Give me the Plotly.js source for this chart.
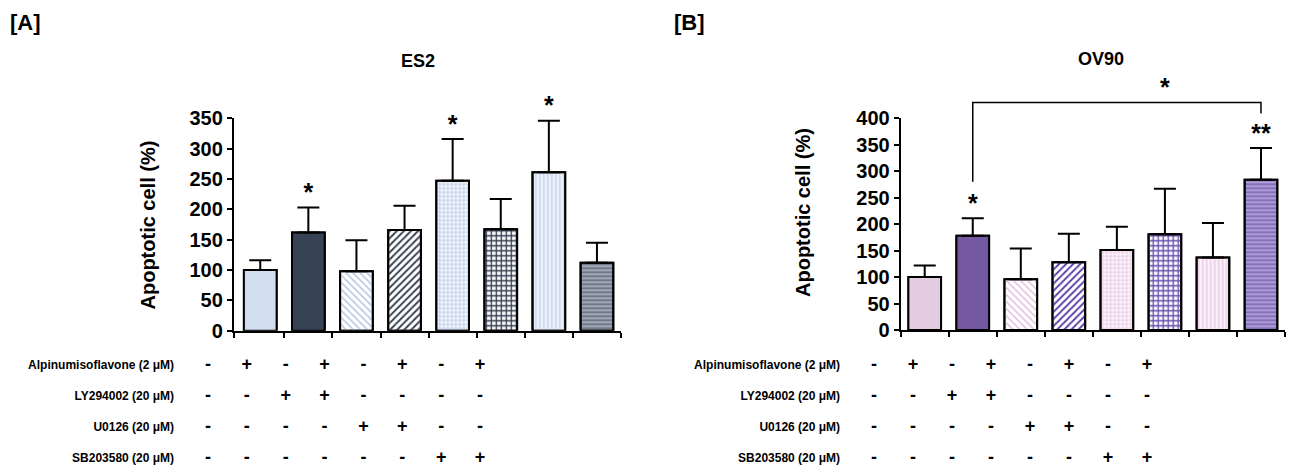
<!DOCTYPE html>
<html><head><meta charset="utf-8">
<script src="https://cdn.plot.ly/plotly-3.0.1.min.js"></script>
<style>html,body{margin:0;padding:0;background:#fff;} #chart{width:1293px;height:467px;}</style>
</head><body><div id="chart"></div>
<script>
// ---- data ----
const categories = ['Control', 'Alp', 'LY', 'Alp+LY', 'U0126', 'Alp+U0126', 'SB', 'Alp+SB'];
const es2Mean = [100, 162, 98, 166, 247, 167, 261, 112];
const es2Err  = [16, 41, 51, 40, 69, 50, 85, 33];
const es2Sig  = ['', '*', '', '', '*', '', '*', ''];
const ov90Mean = [100, 178, 96, 128, 151, 181, 137, 284];
const ov90Err  = [22, 33, 58, 54, 44, 86, 65, 60];
const ov90Sig  = ['', '*', '', '', '', '', '', '**'];
const bracketX = [1, 1, 7, 7];
const bracketY = [280, 430, 430, 409];
const bracketLabelX = [5];
const bracketLabelY = [430];
const bracketLabel = ['*'];
const treatments = ['Alpinumisoflavone (2 μM)', 'LY294002 (20 μM)', 'U0126 (20 μM)', 'SB203580 (20 μM)'];
const alpin = ['-', '+', '-', '+', '-', '+', '-', '+'];
const ly    = ['-', '-', '+', '+', '-', '-', '-', '-'];
const u0126 = ['-', '-', '-', '-', '+', '+', '-', '-'];
const sb    = ['-', '-', '-', '-', '-', '-', '+', '+'];
const tableRows = [alpin, ly, u0126, sb];

// ---- styles ----
const es2Bg    = ['#d3deef', '#374354', '#ffffff', '#ffffff', '#f1f5fb', '#ffffff', '#eef2fa', '#a3aab7'];
const es2Fg    = ['#d3deef', '#374354', '#b3c5e6', '#3a4455', '#c2d1ec', '#2f3a4c', '#c0cfea', '#3e4759'];
const ov90Bg   = ['#e3cbe2', '#7458a2', '#ffffff', '#ffffff', '#fbf3fa', '#ffffff', '#fbf1f9', '#ab9dd3'];
const ov90Fg   = ['#e3cbe2', '#7458a2', '#e4bddf', '#5e44a6', '#eccde8', '#6248aa', '#e8c2e3', '#5f44a6'];
const shapes   = ['', '', '\\', '/', '.', '+', '|', '-'];
const psize    = [8, 8, 5, 5, 4, 5, 4, 4];
const psolid   = [0.3, 0.3, 0.3, 0.4, 0.45, 0.45, 0.3, 0.25];
const FONT = 'Liberation Sans, Arial, sans-serif';

const W = 1293, H = 467;
const fx = p => p / W;
const fy = p => (H - p) / H;
const idx = categories.map((_, i) => i);
const zeros = categories.map(() => 0);
const boundsA = [-0.55].concat(categories.map((_, i) => i + 0.5));
const boundsB = [-0.5].concat(categories.map((_, i) => i + 0.5));

function baseBar(mean, bg, xa, ya) {
  return {
    type: 'bar', x: idx, y: mean, xaxis: xa, yaxis: ya, width: 0.68,
    marker: {color: bg, line: {color: '#000', width: 2}}, hoverinfo: 'none', showlegend: false
  };
}
function patternBar(mean, err, fg, xa, ya) {
  return {
    type: 'bar', x: idx, y: mean, xaxis: xa, yaxis: ya, width: 0.68,
    marker: {
      color: fg, line: {color: '#000', width: 2},
      pattern: {shape: shapes, fgcolor: fg, bgcolor: 'rgba(0,0,0,0)', size: psize, solidity: psolid, fillmode: 'replace'}
    },
    error_y: {type: 'data', symmetric: false, array: err, arrayminus: zeros, color: '#000', thickness: 2, width: 11},
    hoverinfo: 'none', showlegend: false
  };
}
function sigTrace(mean, err, sig, xa, ya) {
  return {
    type: 'scatter', mode: 'text', x: idx, y: mean.map((m, i) => m + err[i]), text: sig,
    textposition: 'top center', cliponaxis: false, xaxis: xa, yaxis: ya,
    textfont: {family: FONT, size: 25, color: '#000', weight: 'bold'}, hoverinfo: 'none', showlegend: false
  };
}
function tableTraces(xa, ya) {
  return tableRows.map((row, r) => ({
    type: 'scatter', mode: 'text', x: idx, y: row.map(() => treatments[r]), text: row,
    textposition: 'middle center', cliponaxis: false, xaxis: xa, yaxis: ya,
    textfont: {family: FONT, size: 18, color: '#000', weight: 'bold'}, hoverinfo: 'none', showlegend: false
  }));
}

const traces = [
  baseBar(es2Mean, es2Bg, 'x', 'y'),
  patternBar(es2Mean, es2Err, es2Fg, 'x', 'y'),
  sigTrace(es2Mean, es2Err, es2Sig, 'x', 'y'),
  baseBar(ov90Mean, ov90Bg, 'x2', 'y2'),
  patternBar(ov90Mean, ov90Err, ov90Fg, 'x2', 'y2'),
  sigTrace(ov90Mean, ov90Err, ov90Sig, 'x2', 'y2'),
  {type: 'scatter', mode: 'lines', x: bracketX, y: bracketY, xaxis: 'x2', yaxis: 'y5',
   line: {color: '#000', width: 1.5}, hoverinfo: 'none', showlegend: false, cliponaxis: false},
  {type: 'scatter', mode: 'text', x: bracketLabelX, y: bracketLabelY, text: bracketLabel, xaxis: 'x2', yaxis: 'y5',
   textposition: 'top center', cliponaxis: false,
   textfont: {family: FONT, size: 25, color: '#000', weight: 'bold'}, hoverinfo: 'none', showlegend: false}
].concat(tableTraces('x3', 'y3'), tableTraces('x4', 'y4'));

// geometry
const aYBot = fy(330.7), aYTop = fy(118.3);
const bYBot = fy(330), bYTop = fy(118.3);
const b5Top = fy(70);
const b5Range = 400 * (b5Top - bYBot) / (bYTop - bYBot);

const yAxisCommon = {
  showline: true, linecolor: '#000', linewidth: 2, ticks: 'outside', ticklen: 5, tickwidth: 2, tickcolor: '#000',
  showgrid: false, zeroline: false, tickfont: {family: FONT, size: 20, color: '#000', weight: 'bold'}, fixedrange: true
};
const xAxisCommon = {
  showline: true, linecolor: '#000', linewidth: 2, ticks: 'outside', ticklen: 5, tickwidth: 2, tickcolor: '#000',
  showgrid: false, zeroline: false, showticklabels: false, tickmode: 'array', fixedrange: true
};
const tableY = {
  type: 'category', categoryarray: treatments, categoryorder: 'array', range: [3.25, -0.25], autorange: false,
  showline: false, showgrid: false, zeroline: false, ticks: 'outside', ticklen: 11, tickcolor: 'rgba(0,0,0,0)',
  tickfont: {family: FONT, size: 12, color: '#000', weight: 'bold'}, fixedrange: true
};
const tableX = {range: [-0.5, 7.5], visible: false, fixedrange: true};

const layout = {
  width: W, height: H, margin: {l: 0, r: 0, t: 0, b: 0},
  paper_bgcolor: '#fff', plot_bgcolor: 'rgba(0,0,0,0)', showlegend: false, barmode: 'overlay',
  xaxis: Object.assign({}, xAxisCommon, {domain: [fx(233.8), fx(621)], range: [-0.55, 7.5], tickvals: boundsA, anchor: 'y'}),
  yaxis: Object.assign({}, yAxisCommon, {domain: [aYBot, aYTop], range: [0, 350], dtick: 50, anchor: 'x'}),
  xaxis2: Object.assign({}, xAxisCommon, {domain: [fx(900.7), fx(1285)], range: [-0.5, 7.5], tickvals: boundsB, anchor: 'y2'}),
  yaxis2: Object.assign({}, yAxisCommon, {domain: [bYBot, bYTop], range: [0, 400], dtick: 50, anchor: 'x2'}),
  yaxis5: {domain: [bYBot, b5Top], range: [0, b5Range], visible: false, anchor: 'x2', fixedrange: true},
  xaxis3: Object.assign({}, tableX, {domain: [fx(188.5), fx(499.5)], anchor: 'y3'}),
  yaxis3: Object.assign({}, tableY, {domain: [fy(465.75), fy(357.25)], anchor: 'x3'}),
  xaxis4: Object.assign({}, tableX, {domain: [fx(854.5), fx(1166.5)], anchor: 'y4'}),
  yaxis4: Object.assign({}, tableY, {domain: [fy(465.75), fy(357.25)], anchor: 'x4'}),
  annotations: [
    {text: '[A]', x: fx(8), y: fy(22), xref: 'paper', yref: 'paper', xanchor: 'left', yanchor: 'middle', showarrow: false,
     font: {family: FONT, size: 22, color: '#000', weight: 'bold'}},
    {text: '[B]', x: fx(672), y: fy(22), xref: 'paper', yref: 'paper', xanchor: 'left', yanchor: 'middle', showarrow: false,
     font: {family: FONT, size: 22, color: '#000', weight: 'bold'}},
    {text: 'ES2', x: fx(418), y: fy(61), xref: 'paper', yref: 'paper', xanchor: 'center', yanchor: 'middle', showarrow: false,
     font: {family: FONT, size: 18, color: '#000', weight: 'bold'}},
    {text: 'OV90', x: fx(1101), y: fy(59), xref: 'paper', yref: 'paper', xanchor: 'center', yanchor: 'middle', showarrow: false,
     font: {family: FONT, size: 18, color: '#000', weight: 'bold'}},
    {text: 'Apoptotic cell (%)', x: fx(147.5), y: fy(225), xref: 'paper', yref: 'paper', xanchor: 'center', yanchor: 'middle',
     textangle: -90, showarrow: false, font: {family: FONT, size: 20, color: '#000', weight: 'bold'}},
    {text: 'Apoptotic cell (%)', x: fx(803), y: fy(213), xref: 'paper', yref: 'paper', xanchor: 'center', yanchor: 'middle',
     textangle: -90, showarrow: false, font: {family: FONT, size: 20, color: '#000', weight: 'bold'}}
  ]
};

Plotly.newPlot('chart', traces, layout, {staticPlot: true, displayModeBar: false});
</script>
</body></html>
